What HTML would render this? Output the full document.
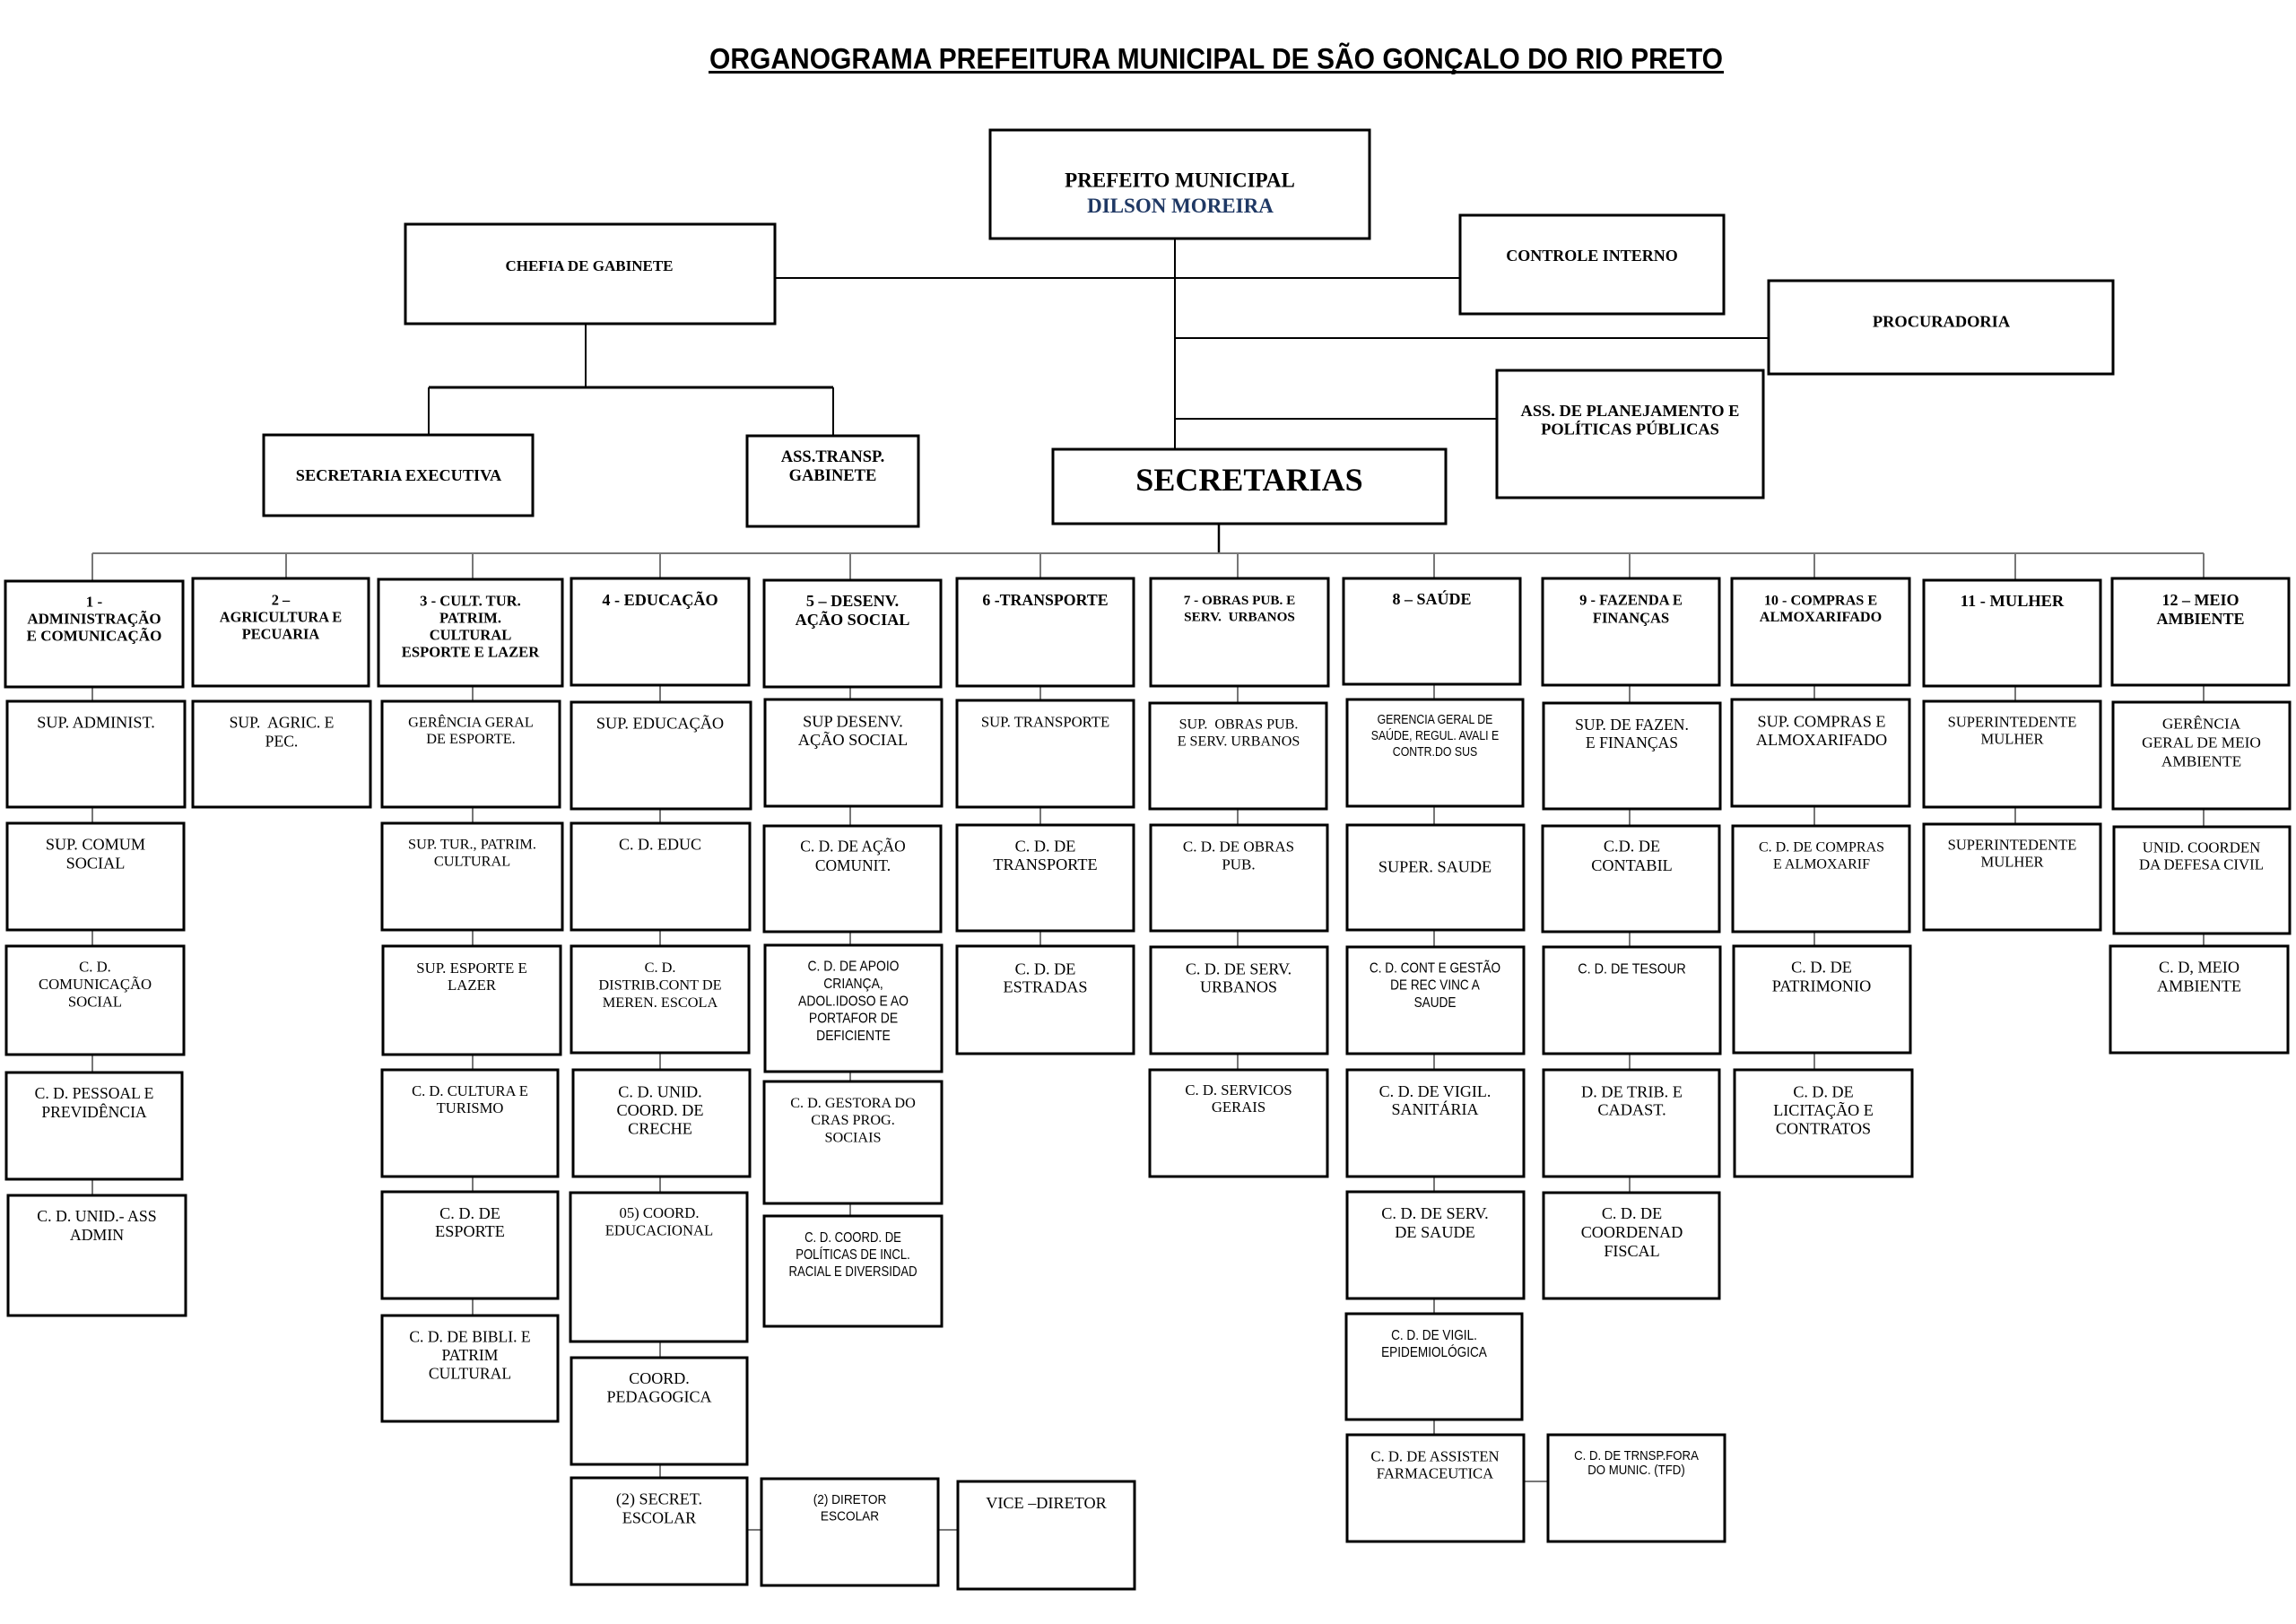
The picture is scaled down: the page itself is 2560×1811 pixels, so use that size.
<!DOCTYPE html>
<html>
<head>
<meta charset="utf-8">
<style>
html,body{margin:0;padding:0;background:#fff;}
svg{display:block;}
.b{font-weight:bold;}
.s{font-family:"Liberation Sans",Arial,sans-serif;}
</style>
</head>
<body>
<svg xmlns="http://www.w3.org/2000/svg" width="2560" height="1811" viewBox="0 0 2560 1811">
<rect width="2560" height="1811" fill="#fff"/>

<!-- Title -->
<text x="791" y="76.5" font-family="'Liberation Sans',Arial,sans-serif" font-weight="bold" font-size="32" textLength="1130" lengthAdjust="spacingAndGlyphs">ORGANOGRAMA PREFEITURA MUNICIPAL DE SÃO GONÇALO DO RIO PRETO</text>
<rect x="790" y="79" width="1132" height="3" fill="#000"/>

<!-- top black connectors -->
<g stroke="#000" stroke-width="2" fill="none">
<path d="M1310 266V501"/>
<path d="M864 310H1628"/>
<path d="M1310 377H1972"/>
<path d="M1310 467H1669"/>
<path d="M653 361V432"/>
<path d="M478 432H929" stroke-width="3"/>
<path d="M478 432V485"/>
<path d="M929 432V486"/>
<path d="M1359 584V617" stroke-width="2.5"/>
</g>

<!-- gray connectors -->
<g stroke="#777" stroke-width="2" fill="none">
<path d="M103 617H2457"/>
<path d="M103 617V1333M319 617V645M527 617V1467M736 617V1648M948 617V1356M1160 617V1055M1380 617V1193M1599 617V1600M1817 617V1330M2023 617V1193M2247 617V919M2457 617V1055"/>
<path d="M833 1706H1068M1699 1652H1726"/>
</g>

<!-- boxes -->
<g fill="#fff" stroke="#000" stroke-width="3">
<rect x="1104" y="145" width="423" height="121"/>
<rect x="452" y="250" width="412" height="111"/>
<rect x="1628" y="240" width="294" height="110"/>
<rect x="1972" y="313" width="384" height="104"/>
<rect x="1669" y="413" width="297" height="142"/>
<rect x="1174" y="501" width="438" height="83"/>
<rect x="294" y="485" width="300" height="90"/>
<rect x="833" y="486" width="191" height="101"/>

<rect x="6" y="648" width="198" height="118"/>
<rect x="8" y="782" width="198" height="118"/>
<rect x="8" y="918" width="197" height="119"/>
<rect x="7" y="1055" width="198" height="121"/>
<rect x="7" y="1196" width="196" height="119"/>
<rect x="9" y="1333" width="198" height="134"/>

<rect x="215" y="645" width="196" height="120"/>
<rect x="215" y="782" width="198" height="118"/>

<rect x="422" y="646" width="205" height="119"/>
<rect x="426" y="782" width="198" height="118"/>
<rect x="426" y="918" width="201" height="119"/>
<rect x="427" y="1055" width="198" height="121"/>
<rect x="426" y="1193" width="196" height="119"/>
<rect x="426" y="1329" width="196" height="119"/>
<rect x="426" y="1467" width="196" height="118"/>

<rect x="637" y="645" width="198" height="119"/>
<rect x="637" y="783" width="200" height="119"/>
<rect x="637" y="918" width="199" height="119"/>
<rect x="637" y="1055" width="198" height="119"/>
<rect x="639" y="1193" width="197" height="119"/>
<rect x="636" y="1330" width="197" height="166"/>
<rect x="637" y="1514" width="196" height="119"/>
<rect x="637" y="1648" width="196" height="119"/>
<rect x="849" y="1649" width="197" height="119"/>
<rect x="1068" y="1652" width="197" height="120"/>

<rect x="852" y="647" width="197" height="119"/>
<rect x="853" y="780" width="197" height="119"/>
<rect x="852" y="921" width="197" height="118"/>
<rect x="853" y="1054" width="197" height="141"/>
<rect x="852" y="1206" width="198" height="136"/>
<rect x="852" y="1356" width="198" height="123"/>

<rect x="1067" y="645" width="197" height="120"/>
<rect x="1067" y="781" width="197" height="119"/>
<rect x="1067" y="920" width="197" height="118"/>
<rect x="1067" y="1055" width="197" height="120"/>

<rect x="1283" y="645" width="198" height="120"/>
<rect x="1282" y="784" width="197" height="118"/>
<rect x="1283" y="920" width="197" height="118"/>
<rect x="1283" y="1056" width="197" height="119"/>
<rect x="1282" y="1193" width="198" height="119"/>

<rect x="1498" y="645" width="197" height="118"/>
<rect x="1502" y="780" width="196" height="119"/>
<rect x="1502" y="920" width="197" height="117"/>
<rect x="1502" y="1056" width="197" height="119"/>
<rect x="1502" y="1193" width="197" height="119"/>
<rect x="1502" y="1329" width="197" height="119"/>
<rect x="1501" y="1465" width="196" height="118"/>
<rect x="1502" y="1600" width="197" height="119"/>
<rect x="1726" y="1600" width="197" height="119"/>

<rect x="1720" y="645" width="197" height="119"/>
<rect x="1721" y="784" width="197" height="118"/>
<rect x="1720" y="921" width="197" height="118"/>
<rect x="1721" y="1056" width="197" height="119"/>
<rect x="1721" y="1193" width="196" height="119"/>
<rect x="1721" y="1330" width="196" height="118"/>

<rect x="1931" y="645" width="198" height="119"/>
<rect x="1931" y="780" width="198" height="119"/>
<rect x="1932" y="921" width="197" height="118"/>
<rect x="1933" y="1055" width="197" height="119"/>
<rect x="1934" y="1193" width="198" height="119"/>

<rect x="2145" y="647" width="197" height="118"/>
<rect x="2145" y="782" width="197" height="118"/>
<rect x="2145" y="919" width="197" height="118"/>

<rect x="2355" y="645" width="197" height="119"/>
<rect x="2356" y="783" width="197" height="119"/>
<rect x="2357" y="922" width="196" height="119"/>
<rect x="2353" y="1055" width="198" height="119"/>
</g>

<!-- texts -->
<g font-family="'Liberation Serif','Times New Roman',serif" text-anchor="middle" fill="#000">
<!-- top -->
<text x="1315.5" y="208.5" font-size="23" class="b">PREFEITO MUNICIPAL</text>
<text x="1316" y="237" font-size="23" class="b" fill="#1f3864">DILSON MOREIRA</text>
<text x="657" y="302" font-size="17" class="b">CHEFIA DE GABINETE</text>
<text x="1775" y="291" font-size="18" class="b">CONTROLE INTERNO</text>
<text x="2164.5" y="364.5" font-size="18.4" class="b">PROCURADORIA</text>
<text x="1817.5" y="464" font-size="18.4" class="b"><tspan x="1817.5">ASS. DE PLANEJAMENTO E</tspan><tspan x="1817.5" dy="20.5">POLÍTICAS PÚBLICAS</tspan></text>
<text x="1393" y="547" font-size="36" class="b">SECRETARIAS</text>
<text x="444.5" y="536" font-size="18.3" class="b">SECRETARIA EXECUTIVA</text>
<text x="928.5" y="515" font-size="18.5" class="b"><tspan x="928.5">ASS.TRANSP.</tspan><tspan x="928.5" dy="21">GABINETE</tspan></text>

<!-- headers -->
<text x="105" y="676.5" font-size="17" class="b"><tspan x="105">1 -</tspan><tspan x="105" dy="19">ADMINISTRAÇÃO</tspan><tspan x="105" dy="19">E COMUNICAÇÃO</tspan></text>
<text x="313" y="674.5" font-size="16.4" class="b"><tspan x="313">2 –</tspan><tspan x="313" dy="19">AGRICULTURA E</tspan><tspan x="313" dy="19">PECUARIA</tspan></text>
<text x="524.5" y="675.5" font-size="16.6" class="b"><tspan x="524.5">3 - CULT. TUR.</tspan><tspan x="524.5" dy="19">PATRIM.</tspan><tspan x="524.5" dy="19">CULTURAL</tspan><tspan x="524.5" dy="19">ESPORTE E LAZER</tspan></text>
<text x="736" y="675" font-size="18.2" class="b">4 - EDUCAÇÃO</text>
<text x="950.5" y="676" font-size="18.2" class="b"><tspan x="950.5">5 – DESENV.</tspan><tspan x="950.5" dy="21">AÇÃO SOCIAL</tspan></text>
<text x="1165.5" y="675" font-size="17.8" class="b">6 -TRANSPORTE</text>
<text x="1382" y="674" font-size="15.2" class="b"><tspan x="1382">7 - OBRAS PUB. E</tspan><tspan x="1382" dy="18.5">SERV.&#160; URBANOS</tspan></text>
<text x="1596.5" y="674" font-size="18" class="b">8 – SAÚDE</text>
<text x="1818.5" y="674.5" font-size="16.5" class="b"><tspan x="1818.5">9 - FAZENDA E</tspan><tspan x="1818.5" dy="20">FINANÇAS</tspan></text>
<text x="2030" y="674.5" font-size="16.2" class="b"><tspan x="2030">10 - COMPRAS E</tspan><tspan x="2030" dy="18.5">ALMOXARIFADO</tspan></text>
<text x="2243.5" y="676" font-size="18.4" class="b">11 - MULHER</text>
<text x="2453.5" y="675" font-size="18" class="b"><tspan x="2453.5">12 – MEIO</tspan><tspan x="2453.5" dy="21">AMBIENTE</tspan></text>

<!-- col 1 -->
<text x="107" y="811.5" font-size="18.2">SUP. ADMINIST.</text>
<text x="106.5" y="947.7" font-size="18.2"><tspan x="106.5">SUP. COMUM</tspan><tspan x="106.5" dy="21">SOCIAL</tspan></text>
<text x="106" y="1083.5" font-size="16.7"><tspan x="106">C. D.</tspan><tspan x="106" dy="19.5">COMUNICAÇÃO</tspan><tspan x="106" dy="19.5">SOCIAL</tspan></text>
<text x="105" y="1225" font-size="17.6"><tspan x="105">C. D. PESSOAL E</tspan><tspan x="105" dy="21">PREVIDÊNCIA</tspan></text>
<text x="108" y="1362" font-size="17.8"><tspan x="108">C. D. UNID.- ASS</tspan><tspan x="108" dy="21">ADMIN</tspan></text>

<!-- col 2 -->
<text x="314" y="811.5" font-size="17.6"><tspan x="314">SUP.&#160; AGRIC. E</tspan><tspan x="314" dy="21">PEC.</tspan></text>

<!-- col 3 -->
<text x="525" y="810.5" font-size="16.3"><tspan x="525">GERÊNCIA GERAL</tspan><tspan x="525" dy="18.5">DE ESPORTE.</tspan></text>
<text x="526.5" y="946.5" font-size="16.3"><tspan x="526.5">SUP. TUR., PATRIM.</tspan><tspan x="526.5" dy="19">CULTURAL</tspan></text>
<text x="526" y="1085" font-size="16.8"><tspan x="526">SUP. ESPORTE E</tspan><tspan x="526" dy="19">LAZER</tspan></text>
<text x="524" y="1222" font-size="16.6"><tspan x="524">C. D. CULTURA E</tspan><tspan x="524" dy="19">TURISMO</tspan></text>
<text x="524" y="1359" font-size="18.2"><tspan x="524">C. D. DE</tspan><tspan x="524" dy="20">ESPORTE</tspan></text>
<text x="524" y="1496.5" font-size="17.6"><tspan x="524">C. D. DE BIBLI. E</tspan><tspan x="524" dy="20.5">PATRIM</tspan><tspan x="524" dy="20.5">CULTURAL</tspan></text>

<!-- col 4 -->
<text x="736" y="812.7" font-size="18.3">SUP. EDUCAÇÃO</text>
<text x="736" y="947.7" font-size="18">C. D. EDUC</text>
<text x="736" y="1084" font-size="16.3"><tspan x="736">C. D.</tspan><tspan x="736" dy="19.5">DISTRIB.CONT DE</tspan><tspan x="736" dy="19.5">MEREN. ESCOLA</tspan></text>
<text x="736" y="1223.5" font-size="18.2"><tspan x="736">C. D. UNID.</tspan><tspan x="736" dy="20.5">COORD. DE</tspan><tspan x="736" dy="20.5">CRECHE</tspan></text>
<text x="735" y="1358" font-size="16.7"><tspan x="735">05) COORD.</tspan><tspan x="735" dy="19.7">EDUCACIONAL</tspan></text>
<text x="735" y="1543" font-size="18"><tspan x="735">COORD.</tspan><tspan x="735" dy="20.5">PEDAGOGICA</tspan></text>
<text x="735" y="1677.5" font-size="18.1"><tspan x="735">(2) SECRET.</tspan><tspan x="735" dy="21">ESCOLAR</tspan></text>
<text x="1166.5" y="1682" font-size="18.2">VICE –DIRETOR</text>

<!-- col 5 -->
<text x="951" y="810.7" font-size="18.3"><tspan x="951">SUP DESENV.</tspan><tspan x="951" dy="20.3">AÇÃO SOCIAL</tspan></text>
<text x="951" y="949.5" font-size="17.4"><tspan x="951">C. D. DE AÇÃO</tspan><tspan x="951" dy="21.5">COMUNIT.</tspan></text>
<text x="951" y="1235" font-size="16.2"><tspan x="951">C. D. GESTORA DO</tspan><tspan x="951" dy="19">CRAS PROG.</tspan><tspan x="951" dy="19.5">SOCIAIS</tspan></text>

<!-- col 6 -->
<text x="1165.5" y="810.5" font-size="16.7">SUP. TRANSPORTE</text>
<text x="1165.5" y="949.7" font-size="18.2"><tspan x="1165.5">C. D. DE</tspan><tspan x="1165.5" dy="20.5">TRANSPORTE</tspan></text>
<text x="1165.5" y="1086.3" font-size="18.2"><tspan x="1165.5">C. D. DE</tspan><tspan x="1165.5" dy="20.3">ESTRADAS</tspan></text>

<!-- col 7 -->
<text x="1381" y="812.5" font-size="16.1"><tspan x="1381">SUP.&#160; OBRAS PUB.</tspan><tspan x="1381" dy="19">E SERV. URBANOS</tspan></text>
<text x="1381" y="949.3" font-size="17"><tspan x="1381">C. D. DE OBRAS</tspan><tspan x="1381" dy="20.3">PUB.</tspan></text>
<text x="1381" y="1086.3" font-size="18"><tspan x="1381">C. D. DE SERV.</tspan><tspan x="1381" dy="20.3">URBANOS</tspan></text>
<text x="1381" y="1221" font-size="16.7"><tspan x="1381">C. D. SERVICOS</tspan><tspan x="1381" dy="19">GERAIS</tspan></text>

<!-- col 8 -->
<text x="1600" y="972.6" font-size="18.2">SUPER. SAUDE</text>
<text x="1600" y="1223" font-size="18"><tspan x="1600">C. D. DE VIGIL.</tspan><tspan x="1600" dy="20">SANITÁRIA</tspan></text>
<text x="1600" y="1359" font-size="18.2"><tspan x="1600">C. D. DE SERV.</tspan><tspan x="1600" dy="21">DE SAUDE</tspan></text>
<text x="1600" y="1629.3" font-size="16.7"><tspan x="1600">C. D. DE ASSISTEN</tspan><tspan x="1600" dy="19.3">FARMACEUTICA</tspan></text>

<!-- col 9 -->
<text x="1819.5" y="813.8" font-size="17.6"><tspan x="1819.5">SUP. DE FAZEN.</tspan><tspan x="1819.5" dy="20.3">E FINANÇAS</tspan></text>
<text x="1819.5" y="949.7" font-size="18.2"><tspan x="1819.5">C.D. DE</tspan><tspan x="1819.5" dy="21.5">CONTABIL</tspan></text>
<text x="1819.5" y="1223.5" font-size="18.3"><tspan x="1819.5">D. DE TRIB. E</tspan><tspan x="1819.5" dy="20">CADAST.</tspan></text>
<text x="1819.5" y="1359" font-size="18.1"><tspan x="1819.5">C. D. DE</tspan><tspan x="1819.5" dy="21">COORDENAD</tspan><tspan x="1819.5" dy="21">FISCAL</tspan></text>

<!-- col 10 -->
<text x="2031" y="810.7" font-size="18.2"><tspan x="2031">SUP. COMPRAS E</tspan><tspan x="2031" dy="20.3">ALMOXARIFADO</tspan></text>
<text x="2031" y="949.5" font-size="16"><tspan x="2031">C. D. DE COMPRAS</tspan><tspan x="2031" dy="19">E ALMOXARIF</tspan></text>
<text x="2031" y="1084.4" font-size="18.2"><tspan x="2031">C. D. DE</tspan><tspan x="2031" dy="21">PATRIMONIO</tspan></text>
<text x="2033" y="1223.4" font-size="18.1"><tspan x="2033">C. D. DE</tspan><tspan x="2033" dy="20.5">LICITAÇÃO E</tspan><tspan x="2033" dy="20.5">CONTRATOS</tspan></text>

<!-- col 11 -->
<text x="2243.5" y="810.5" font-size="16.6"><tspan x="2243.5">SUPERINTEDENTE</tspan><tspan x="2243.5" dy="19">MULHER</tspan></text>
<text x="2243.5" y="947.5" font-size="16.6"><tspan x="2243.5">SUPERINTEDENTE</tspan><tspan x="2243.5" dy="19">MULHER</tspan></text>

<!-- col 12 -->
<text x="2454.5" y="812.7" font-size="17.3"><tspan x="2454.5">GERÊNCIA</tspan><tspan x="2454.5" dy="21">GERAL DE MEIO</tspan><tspan x="2454.5" dy="21">AMBIENTE</tspan></text>
<text x="2454.5" y="950.4" font-size="16.8"><tspan x="2454.5">UNID. COORDEN</tspan><tspan x="2454.5" dy="19.2">DA DEFESA CIVIL</tspan></text>
<text x="2452" y="1084.4" font-size="18.2"><tspan x="2452">C. D, MEIO</tspan><tspan x="2452" dy="21">AMBIENTE</tspan></text>
</g>

<!-- narrow sans texts -->
<g font-family="'Liberation Sans',Arial,sans-serif" text-anchor="middle" fill="#000">
<g transform="matrix(0.87 0 0 1 123.7 0)">
<text x="951.5" y="1082.5" font-size="16"><tspan x="951.5">C. D. DE APOIO</tspan><tspan x="951.5" dy="19.5">CRIANÇA,</tspan><tspan x="951.5" dy="19.5">ADOL.IDOSO E AO</tspan><tspan x="951.5" dy="19">PORTAFOR DE</tspan><tspan x="951.5" dy="19.5">DEFICIENTE</tspan></text>
</g>
<g transform="matrix(0.85 0 0 1 240 0)">
<text x="1600" y="807" font-size="14.5"><tspan x="1600">GERENCIA GERAL DE</tspan><tspan x="1600" dy="18">SAÚDE, REGUL. AVALI E</tspan><tspan x="1600" dy="18">CONTR.DO SUS</tspan></text>
</g>
<g transform="matrix(0.85 0 0 1 240 0)">
<text x="1600" y="1084.5" font-size="16"><tspan x="1600">C. D. CONT E GESTÃO</tspan><tspan x="1600" dy="19">DE REC VINC A</tspan><tspan x="1600" dy="19.5">SAUDE</tspan></text>
</g>
<g transform="matrix(0.9 0 0 1 181.95 0)">
<text x="1819.5" y="1085.5" font-size="16">C. D. DE TESOUR</text>
</g>
<g transform="matrix(0.82 0 0 1 171.2 0)">
<text x="951" y="1385" font-size="16"><tspan x="951">C. D. COORD. DE</tspan><tspan x="951" dy="19">POLÍTICAS DE INCL.</tspan><tspan x="951" dy="19">RACIAL E DIVERSIDAD</tspan></text>
</g>
<g transform="matrix(0.85 0 0 1 239.85 0)">
<text x="1599" y="1494" font-size="16"><tspan x="1599">C. D. DE VIGIL.</tspan><tspan x="1599" dy="19">EPIDEMIOLÓGICA</tspan></text>
</g>
<g transform="matrix(0.91 0 0 1 85.3 0)">
<text x="947.5" y="1677" font-size="15"><tspan x="947.5">(2) DIRETOR</tspan><tspan x="947.5" dy="18.5">ESCOLAR</tspan></text>
</g>
<g transform="matrix(0.91 0 0 1 164.2 0)">
<text x="1824.5" y="1628" font-size="14.5"><tspan x="1824.5">C. D. DE TRNSP.FORA</tspan><tspan x="1824.5" dy="16">DO MUNIC. (TFD)</tspan></text>
</g>
</g>
</svg>
</body>
</html>
